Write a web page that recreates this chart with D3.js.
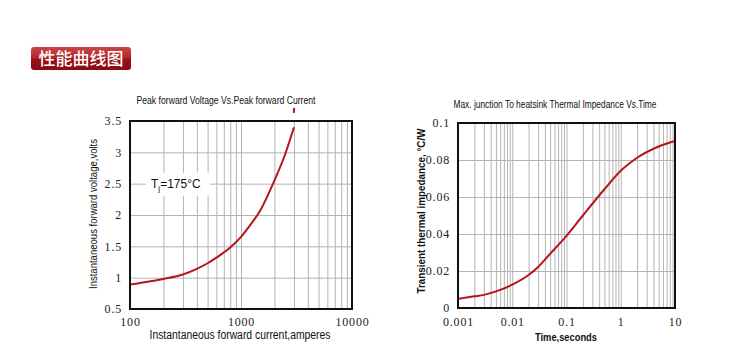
<!DOCTYPE html>
<html>
<head>
<meta charset="utf-8">
<script src="https://cdn.jsdelivr.net/npm/d3@7"></script>
<style>
  body { margin: 0; background: #fff; }
  svg { display: block; }
</style>
</head>
<body>
<svg id="drawing_region"></svg>
<script>
// chart 1: peak forward voltage vs current
const vfCurrent = [100, 150, 200, 300, 400, 500, 600, 800, 1000, 1200, 1500, 2000, 2500, 3000];
const vfVoltage = [0.89, 0.94, 0.98, 1.05, 1.14, 1.23, 1.32, 1.48, 1.65, 1.83, 2.08, 2.55, 2.97, 3.4];
const vfYTicks = [0.5, 1, 1.5, 2, 2.5, 3, 3.5];
const vfXTicks = [100, 1000, 10000];
// little stray red dash above the frame in the original
const vfStray = [[2990, 3.63], [3010, 3.71]];

// chart 2: thermal impedance vs time
const ztTime = [0.001, 0.002, 0.003, 0.005, 0.01, 0.02, 0.03, 0.05, 0.1, 0.2, 0.5, 1, 1.5, 2, 5, 10];
const ztImpedance = [0.005, 0.0063, 0.0071, 0.009, 0.0126, 0.0178, 0.0222, 0.0293, 0.039, 0.05, 0.0642, 0.0742, 0.0785, 0.0812, 0.0873, 0.0903];
const ztYTicks = [0, 0.02, 0.04, 0.06, 0.08, 0.1];
const ztXTicks = [0.001, 0.01, 0.1, 1, 10];

const svg = d3.select('#drawing_region')
    .attr('width', 750)
    .attr('height', 358);

svg.append('rect').attr('width', 750).attr('height', 358).attr('fill', '#fff');

// header badge
const defs = svg.append('defs');
const grad = defs.append('linearGradient')
    .attr('id', 'badge').attr('x1', 0).attr('y1', 0).attr('x2', 0).attr('y2', 1);
grad.append('stop').attr('offset', '0%').attr('stop-color', '#c8464a');
grad.append('stop').attr('offset', '48%').attr('stop-color', '#b3252a');
grad.append('stop').attr('offset', '52%').attr('stop-color', '#9a1016');
grad.append('stop').attr('offset', '100%').attr('stop-color', '#8a0a10');

svg.append('rect')
    .attr('x', 31).attr('y', 47).attr('width', 100).attr('height', 23).attr('rx', 3)
    .attr('fill', 'url(#badge)');
svg.append('text')
    .attr('x', 81).attr('y', 65)
    .attr('text-anchor', 'middle')
    .attr('fill', '#fff')
    .style('font-family', '"Noto Sans CJK SC"')
    .style('font-size', '17px')
    .style('font-weight', 500)
    .text('性能曲线图');

// log grid values between decade ticks
function logGrid(decades) {
    const out = [];
    for (let i = 0; i < decades.length - 1; i++) {
        for (let k = 2; k <= 9; k++) out.push(decades[i] * k);
        if (i > 0) out.push(decades[i]);
    }
    return out;
}

function drawChart(cfg) {
    const g = svg.append('g');
    const x = d3.scaleLog().domain(cfg.xDomain).range([cfg.left, cfg.right]);
    const y = d3.scaleLinear().domain(cfg.yDomain).range([cfg.bottom, cfg.top]);
    const h = cfg.bottom - cfg.top;
    const w = cfg.right - cfg.left;

    // grid
    const xg = g.append('g')
        .attr('transform', `translate(0,${cfg.bottom})`)
        .call(d3.axisBottom(x).tickValues(logGrid(cfg.xTicks)).tickSize(-h).tickFormat(''));
    const yg = g.append('g')
        .attr('transform', `translate(${cfg.left},0)`)
        .call(d3.axisLeft(y).tickValues(cfg.yTicks.slice(1, -1)).tickSize(-w).tickFormat(''));
    [xg, yg].forEach(a => {
        a.select('.domain').remove();
        a.selectAll('line').attr('stroke', '#b4b4b4').attr('stroke-width', 1);
    });

    // tick labels
    const xl = g.append('g')
        .attr('transform', `translate(0,${cfg.bottom})`)
        .call(d3.axisBottom(x).tickValues(cfg.xTicks).tickSize(0).tickPadding(cfg.xPad).tickFormat(cfg.xFmt));
    const yl = g.append('g')
        .attr('transform', `translate(${cfg.left},0)`)
        .call(d3.axisLeft(y).tickValues(cfg.yTicks).tickSize(0).tickPadding(cfg.yPad).tickFormat(cfg.yFmt));
    [xl, yl].forEach(a => {
        a.select('.domain').remove();
        a.selectAll('text')
            .attr('fill', '#222')
            .style('font-family', '"Liberation Serif", serif')
            .style('font-size', '12px')
            .style('letter-spacing', '0.8px');
    });

    // labels box (Tj)
    if (cfg.note) cfg.note(g, x, y);

    // curve
    const line = d3.line()
        .x(d => x(d[0]))
        .y(d => y(d[1]))
        .curve(d3.curveMonotoneX);
    g.append('path')
        .datum(cfg.xs.map((v, i) => [v, cfg.ys[i]]))
        .attr('d', line)
        .attr('fill', 'none')
        .attr('stroke', '#b3161c')
        .attr('stroke-width', 2);

    if (cfg.stray) {
        g.append('path')
            .datum(cfg.stray)
            .attr('d', d3.line().x(d => x(d[0])).y(d => y(d[1])))
            .attr('fill', 'none')
            .attr('stroke', '#b3161c')
            .attr('stroke-width', 2);
    }

    // frame
    g.append('rect')
        .attr('x', cfg.left).attr('y', cfg.top).attr('width', w).attr('height', h)
        .attr('fill', 'none').attr('stroke', '#111').attr('stroke-width', 2);

    // titles
    const txt = (tx, ty, s, len, size, weight, rot) => {
        const t = g.append('text')
            .attr('x', tx).attr('y', ty)
            .attr('text-anchor', 'middle')
            .attr('fill', '#111')
            .attr('textLength', len)
            .attr('lengthAdjust', 'spacingAndGlyphs')
            .style('font-family', '"Liberation Sans", Arial, sans-serif')
            .style('font-size', size + 'px')
            .style('font-weight', weight)
            .text(s);
        if (rot) t.attr('transform', `rotate(-90,${tx},${ty})`);
    };
    txt(cfg.title.x, cfg.title.y, cfg.title.s, cfg.title.len, 10, 'normal');
    txt(cfg.xTitle.x, cfg.xTitle.y, cfg.xTitle.s, cfg.xTitle.len, cfg.xTitle.size, cfg.xTitle.weight);
    txt(cfg.yTitle.x, cfg.yTitle.y, cfg.yTitle.s, cfg.yTitle.len, cfg.yTitle.size, cfg.yTitle.weight, true);
}

drawChart({
    left: 130, right: 352, top: 121, bottom: 309,
    xDomain: [100, 10000], yDomain: [0.5, 3.5],
    xTicks: vfXTicks, yTicks: vfYTicks,
    xFmt: d => d, yFmt: d => d,
    xPad: 8, yPad: 8,
    xs: vfCurrent, ys: vfVoltage,
    stray: vfStray,
    title: { x: 226, y: 104, s: 'Peak forward Voltage Vs.Peak forward Current', len: 179 },
    xTitle: { x: 240, y: 339, s: 'Instantaneous forward current,amperes', len: 181, size: 12, weight: 'normal' },
    yTitle: { x: 97, y: 214, s: 'Instantaneous forward voltage,volts', len: 150, size: 11, weight: 'normal' },
    note: (g, x, y) => {
        g.append('rect')
            .attr('x', 146).attr('y', y(2.5) - 11).attr('width', 64).attr('height', 23)
            .attr('fill', '#fff');
        const t = g.append('text')
            .attr('x', 151).attr('y', y(2.5) + 4)
            .attr('fill', '#111')
            .style('font-family', '"Liberation Sans", Arial, sans-serif')
            .style('font-size', '12px')
            .style('font-weight', 500);
        t.append('tspan').text('T');
        t.append('tspan').attr('dy', 3).style('font-size', '8px').text('j');
        t.append('tspan').attr('dy', -3).text('=175°C');
    }
});

drawChart({
    left: 458, right: 675, top: 123, bottom: 308,
    xDomain: [0.001, 10], yDomain: [0, 0.1],
    xTicks: ztXTicks, yTicks: ztYTicks,
    xFmt: d => d3.format('~g')(d), yFmt: d => d3.format('~g')(d),
    xPad: 9, yPad: 8,
    xs: ztTime, ys: ztImpedance,
    title: { x: 555, y: 108, s: 'Max. junction To heatsink Thermal Impedance Vs.Time', len: 203 },
    xTitle: { x: 566, y: 341, s: 'Time,seconds', len: 62, size: 11, weight: 'bold' },
    yTitle: { x: 425, y: 211, s: 'Transient thermal impedance, °C/W', len: 165, size: 11, weight: 'bold' }
});
</script>
</body>
</html>
